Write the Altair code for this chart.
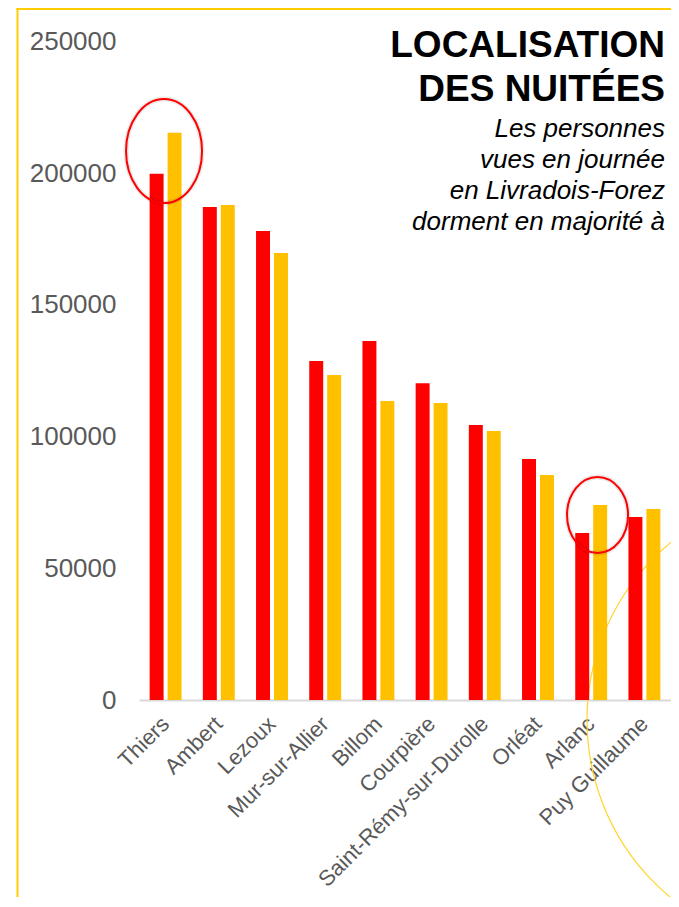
import altair as alt
import pandas as pd

# ---- data ----
communes = ["Thiers", "Ambert", "Lezoux", "Mur-sur-Allier", "Billom", "Courpière",
            "Saint-Rémy-sur-Durolle", "Orléat", "Arlanc", "Puy Guillaume"]
serie_rouge = [199800, 187200, 178100, 128700, 136300, 120300, 104400, 91500, 63400, 69500]
serie_jaune = [215400, 187900, 169700, 123400, 113500, 112800, 102100, 85400, 74000, 72500]
series = ["Série 1", "Série 2"]
y_ticks = [0, 50000, 100000, 150000, 200000, 250000]
highlight_communes = ["Thiers", "Arlanc"]
highlight_values = [208400, 70200]
title_lines = ["LOCALISATION", "DES NUITÉES"]
subtitle_lines = ["Les personnes", "vues en journée", "en Livradois-Forez", "dorment en majorité à"]

rows = []
for c, a, b in zip(communes, serie_rouge, serie_jaune):
    rows.append({"commune": c, "serie": series[0], "valeur": a})
    rows.append({"commune": c, "serie": series[1], "valeur": b})
df = pd.DataFrame(rows)
hl = pd.DataFrame({"commune": highlight_communes, "valeur": highlight_values})
one = pd.DataFrame({"k": [0]})

FONT = "Liberation Sans"
RED = "#FF0000"
GOLD = "#FFC000"


def ellipse_path(ratio):
    k = 0.5523
    a = ratio
    return (f"M{a},0 C{a},{k} {k*a},1 0,1 C{-k*a},1 {-a},{k} {-a},0 "
            f"C{-a},{-k} {-k*a},-1 0,-1 C{k*a},-1 {a},{-k} {a},0 Z")


x_enc = alt.X("commune:N", sort=communes,
              scale=alt.Scale(paddingInner=0.4, paddingOuter=0.2),
              axis=alt.Axis(title=None, labelAngle=-45, labelAlign="right", labelBaseline="middle",
                            labelFontSize=22, labelColor="#595959", labelFont=FONT,
                            labelPadding=20, labelOverlap=False, labelLimit=0,
                            ticks=False, domainColor="#D9D9D9", domainWidth=2))
y_enc = alt.Y("valeur:Q", scale=alt.Scale(domain=[0, 250000], nice=False),
              axis=alt.Axis(title=None, values=y_ticks, format="d", grid=False, ticks=False,
                            domain=False, labelFontSize=26, labelColor="#595959",
                            labelFont=FONT, labelPadding=23))

frame_left = alt.Chart(one).mark_rule(color="#FFCC00", strokeWidth=2).encode(
    x=alt.value(-121.5), y=alt.value(-33.5), y2=alt.value(860))
frame_top = alt.Chart(one).mark_rule(color="#FFCC00", strokeWidth=2).encode(
    x=alt.value(-122.5), x2=alt.value(540), y=alt.value(-32.5))

arc1 = alt.Chart(one).mark_point(shape="circle", filled=False, stroke="#FFD42A",
                                 strokeWidth=1.2, opacity=1, size=211600).encode(
    x=alt.value(678), y=alt.value(678.5))
arc2 = alt.Chart(one).mark_point(shape="circle", filled=False, stroke="#FFD42A",
                                 strokeWidth=1.2, opacity=1, size=198916).encode(
    x=alt.value(758), y=alt.value(668.5))

bars = alt.Chart(df).mark_bar().encode(
    x=x_enc,
    xOffset=alt.XOffset("serie:N", sort=series, scale=alt.Scale(paddingInner=0.222)),
    y=y_enc,
    color=alt.Color("serie:N", scale=alt.Scale(domain=series, range=[RED, GOLD]), legend=None),
)

base_hl = alt.Chart(hl)


def ellipse(name, ratio, size, offset, stroke, width, opacity):
    return base_hl.transform_filter(alt.datum.commune == name).mark_point(
        shape=ellipse_path(ratio), size=size, filled=False, stroke=stroke,
        strokeWidth=width, opacity=opacity).encode(
        x=alt.X("commune:N", sort=communes), y="valeur:Q", xOffset=alt.value(offset))


ell_thiers_sh = ellipse("Thiers", 0.731, 10816, 14.4, "#000000", 5, 0.08)
ell_thiers = ellipse("Thiers", 0.731, 10816, 14.4, RED, 2, 1)
ell_arlanc_sh = ellipse("Arlanc", 0.803, 5776, 22.3, "#000000", 5, 0.08)
ell_arlanc = ellipse("Arlanc", 0.803, 5776, 22.3, RED, 2, 1)

title = alt.Chart(one).mark_text(text=title_lines, align="right", baseline="alphabetic",
                                 font=FONT, fontSize=37, fontWeight="bold", color="#000000",
                                 lineHeight=44.5).encode(x=alt.value(526), y=alt.value(15))
subtitle = alt.Chart(one).mark_text(text=subtitle_lines, align="right", baseline="alphabetic",
                                    font=FONT, fontSize=26, fontStyle="italic", color="#000000",
                                    lineHeight=31).encode(x=alt.value(526), y=alt.value(95.5))

chart = alt.layer(frame_left, frame_top, arc1, arc2, bars, ell_thiers_sh, ell_thiers,
                  ell_arlanc_sh, ell_arlanc, title, subtitle).properties(
    width=532, height=658.5,
    autosize=alt.AutoSizeParams(type="none"),
    padding={"left": 131, "top": 33.5, "right": 0, "bottom": 197},
    background="white",
).configure_view(stroke=None)

chart.save("out.html", embed_options={"renderer": "svg", "actions": False})
